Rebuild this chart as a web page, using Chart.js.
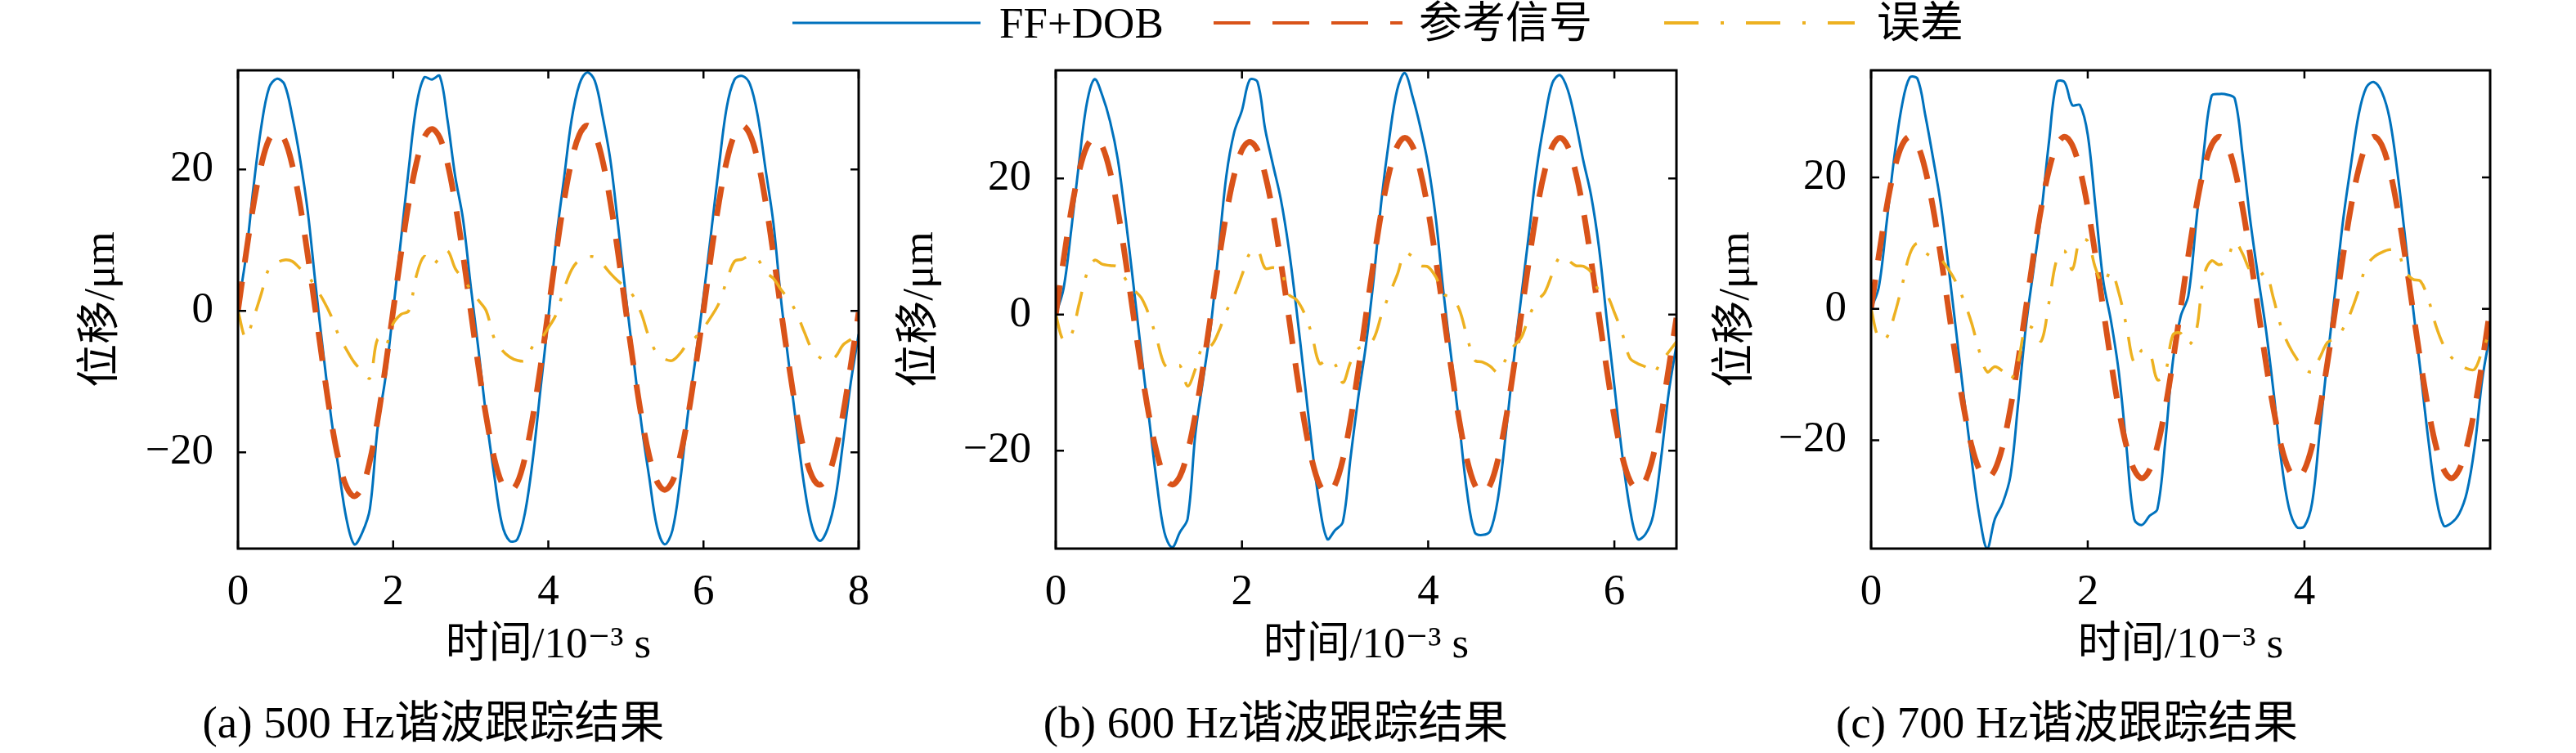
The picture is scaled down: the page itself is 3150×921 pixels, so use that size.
<!DOCTYPE html>
<html>
<head>
<meta charset="utf-8">
<script src="https://cdn.jsdelivr.net/npm/chart.js@4.4.0/dist/chart.umd.min.js"></script>
<style>
  body { margin: 0; background: #fff; width: 3150px; height: 921px; overflow: hidden; position: relative;
         font-family: "Liberation Serif", "DejaVu Serif", "Noto Sans CJK SC", serif; }
  canvas { position: absolute; top: 0; }
  #legend { position: absolute; left: 0; top: 0; width: 3150px; height: 60px; }
  #legend span { position: absolute; top: -2px; font-size: 53px; line-height: 60px; white-space: nowrap; color: #000; }
</style>
</head>
<body>
<div id="legend">
  <svg width="3150" height="60" style="position:absolute;left:0;top:0">
    <line id="lg0" x1="969" y1="28" x2="1199" y2="28" stroke-width="3"/>
    <line id="lg1" x1="1484" y1="28" x2="1715" y2="28" stroke-width="4" stroke-dasharray="45 27"/>
    <line id="lg2" x1="2035" y1="28" x2="2268" y2="28" stroke-width="4" stroke-dasharray="42 27 4 27"/>
  </svg>
  <span id="lt0" style="left:1222px"></span>
  <span id="lt1" style="left:1735px"></span>
  <span id="lt2" style="left:2295px"></span>
</div>
<canvas id="c1" width="1150" height="921" style="left:0px"></canvas>
<canvas id="c2" width="1060" height="921" style="left:1060px"></canvas>
<canvas id="c3" width="1150" height="921" style="left:2000px"></canvas>
<script>
// labels
const seriesNames = ['FF+DOB', '参考信号', '误差'];
const captions = ['(a) 500 Hz谐波跟踪结果', '(b) 600 Hz谐波跟踪结果', '(c) 700 Hz谐波跟踪结果'];
const xTitle = '时间/10⁻³ s';
const yTitle = '位移/μm';
const yTicks = [-20, 0, 20];
const xTicks500 = [0, 2, 4, 6, 8];
const xTicks600 = [0, 2, 4, 6];
const xTicks700 = [0, 2, 4];

// sample spacing in 10^-3 s (20 samples per period)
const step500 = 0.1;
const step600 = 1 / 12;
const step700 = 1 / 14;

// axis limits (tight, as in the figure)
const yRange500 = [-33.6, 34.0];
const yRange600 = [-34.4, 35.9];
const yRange700 = [-36.5, 36.3];

// 500 Hz
const ff500 = [0.5, 7.5, 17.5, 26, 31.5, 32.8, 32, 27.5, 21.5, 14, 3.7, -6, -15, -22.5, -29.5, -33, -31.4, -28, -16.5, -9.5,
  0, 10, 20, 29, 33, 32.7, 33.2, 27, 19, 13, 3.5, -5.5, -15, -23, -30, -32.5, -32.3, -28.5, -21, -11,
  -1, 10, 18.5, 27, 32, 33.7, 32.5, 27.5, 21.3, 12, 2, -7, -16, -23.5, -30.5, -33, -31, -24, -14.5, -6.5,
  2, 11.2, 20.5, 28.8, 32.7, 33.2, 32, 27.5, 20, 12.5, 1.5, -7.5, -16.5, -24.8, -30.5, -32.5, -30.8, -26.5, -18.5, -10, -3.3];
const ref500 = [0, 7.8, 15, 20.6, 24.2, 25.3, 24.2, 20.6, 15, 7.8, 0, -8, -15.4, -21.2, -24.9, -26.2, -24.9, -21.2, -15.4, -8,
  0, 8, 15.2, 20.9, 24.5, 25.7, 24.5, 20.9, 15.2, 8, 0, -7.9, -15, -20.7, -24.3, -25.5, -24.3, -20.7, -15, -7.9,
  0, 8.1, 15.4, 21.2, 24.9, 26.2, 24.9, 21.2, 15.4, 8.1, 0, -7.8, -14.9, -20.5, -24.1, -25.3, -24.1, -20.5, -14.9, -7.8,
  0, 8.1, 15.4, 21.2, 24.9, 26.2, 24.9, 21.2, 15.4, 8.1, 0, -7.6, -14.5, -19.9, -23.4, -24.6, -23.4, -19.9, -14.5, -7.6, -0.2];
const err500 = [0, -3.8, -1, 2.4, 6, 6.8, 7.2, 7, 6, 5, 3.3, 1.5, -0.7, -3.5, -5.5, -7.3, -8.5, -9.5, -4, -5,
  -1.8, -0.5, 0, 5, 7.7, 6.5, 7.5, 8.5, 6, 4.5, 3, 1.5, 0, -3.8, -5.5, -6.5, -7, -7, -5, -4,
  -2.4, -0.5, 3, 5.8, 7.2, 7.6, 7.6, 6.6, 5.3, 4.2, 3.3, 2, -0.4, -3.8, -6, -6.8, -7, -6, -4.5, -3.7,
  -2.4, -0.8, 1.1, 4.3, 7, 7.3, 7.8, 7.3, 5.5, 4.6, 3, 1.6, -0.3, -3, -5.5, -6.6, -7, -6.5, -4.8, -4, -2.9];

// 600 Hz
const ff600 = [0, 3.8, 12.5, 22.3, 31, 34.6, 32.2, 28.4, 22.8, 14.2, 4.5, -5.4, -15, -24.5, -32, -34.2, -32, -30, -17.5, -9.5,
  -1.5, 9.5, 20.5, 26.8, 30, 34.5, 34.2, 27.2, 22, 17, 10, 1, -9, -19.2, -28, -33, -31.7, -30.5, -21, -12.1,
  -4.3, 5.5, 17, 26, 33, 35.5, 32, 27.5, 22, 14, 3, -6.5, -16, -26, -32, -32.4, -31.8, -27, -17.6, -7,
  2.6, 12, 21.5, 28.5, 34, 35.2, 33, 28.3, 22.6, 17.5, 10, -0.5, -10.5, -20.5, -28.5, -33, -32.3, -29.5, -21.3, -11.5, -4.5];
const ref600 = [0, 8, 15.3, 21, 24.7, 26, 24.7, 21, 15.3, 8, 0, -7.7, -14.7, -20.2, -23.8, -25, -23.8, -20.2, -14.7, -7.7,
  0, 7.8, 14.9, 20.5, 24.2, 25.4, 24.2, 20.5, 14.9, 7.8, 0, -8.1, -15.5, -21.3, -25, -26.3, -25, -21.3, -15.5, -8.1,
  0, 8, 15.3, 21, 24.7, 26, 24.7, 21, 15.3, 8, 0, -8.1, -15.5, -21.3, -25, -26.3, -25, -21.3, -15.5, -8.1,
  0, 8, 15.3, 21, 24.7, 26, 24.7, 21, 15.3, 8, 0, -7.9, -15.1, -20.8, -24.4, -25.7, -24.4, -20.8, -15.1, -7.9, -0.5];
const err600 = [0, -3.8, -3, 1.5, 6, 8, 7.4, 7.2, 7, 5.2, 3.7, 2.5, 0, -3.5, -7.3, -8, -7.5, -10.5, -8, -4.5,
  -4.6, -2.5, 0.5, 2.8, 5.8, 9, 9.5, 6.8, 6.9, 6.5, 3, 2.2, 0.3, -2.9, -7.2, -6.6, -7.3, -10, -7, -5,
  -4.6, -3.5, 0, 3, 5.8, 9, 8.5, 7.2, 7, 5.5, 3, 2.5, 0.8, -3.2, -6.7, -7, -7.6, -8.5, -6.6, -4.7,
  -3.4, -0.3, 2, 3.2, 6, 8.5, 8, 7.2, 7.1, 6.2, 3.5, 2.9, 0.3, -2.7, -6.4, -7.2, -7.7, -8.6, -7, -5.5, -4];

// 700 Hz
const ff700 = [0, 3.3, 13, 23.1, 31, 35.2, 35, 29.5, 23, 16, 6.5, -3.5, -13.5, -23, -31.5, -36.5, -32, -29.6, -25.5, -14.5,
  -2.8, 6, 14.6, 25.5, 34.5, 34.5, 31, 31, 26.5, 15.5, 4.3, -1.8, -9.5, -21, -32, -32.9, -31.5, -30.5, -20.5, -8,
  -1.2, 2, 13, 24, 32.4, 32.7, 32.6, 32, 23.6, 13.5, 5, -2.9, -12.5, -23, -30.3, -33.2, -33.1, -29.5, -18.5, -7.5,
  3, 13.5, 21.8, 29.5, 33.7, 34.5, 33, 29, 21, 11, 0.5, -9.5, -19.8, -28.5, -33, -32.6, -31.2, -27.9, -21, -10.6, -3.8];
const ref700 = [0, 8.1, 15.4, 21.2, 24.9, 26.2, 24.9, 21.2, 15.4, 8.1, 0, -8, -15.2, -20.9, -24.5, -25.8, -24.5, -20.9, -15.2, -8,
  0, 8.1, 15.4, 21.2, 24.9, 26.2, 24.9, 21.2, 15.4, 8.1, 0, -8, -15.2, -20.9, -24.5, -25.8, -24.5, -20.9, -15.2, -8,
  0, 8.1, 15.4, 21.2, 24.9, 26.2, 24.9, 21.2, 15.4, 8.1, 0, -8, -15.2, -20.9, -24.5, -25.8, -24.5, -20.9, -15.2, -8,
  0, 8.1, 15.4, 21.2, 24.9, 26.2, 24.9, 21.2, 15.4, 8.1, 0, -8, -15.2, -20.9, -24.5, -25.8, -24.5, -20.9, -15.2, -8, 0];
const err700 = [0, -4.5, -4.4, -1, 3.5, 8.3, 10, 8.6, 7.8, 7.5, 6, 4, 1.2, -2.2, -6.5, -9.6, -8.8, -9.5, -10.8, -8,
  -2.8, -3, -4.9, 1, 7.5, 8.8, 6, 10.5, 10.3, 6.2, 3.8, 5.7, 2.5, -2.6, -8.2, -6.3, -6.7, -10.8, -9.8, -4,
  -3.7, -5.5, -3.5, 5, 7.3, 6.7, 7.5, 10.2, 8.4, 5.8, 5, 5.5, 1.6, -2.8, -5.6, -7.6, -9.1, -9.6, -7.4, -5.1,
  -4.5, -3, -0.5, 2.8, 6.5, 7.9, 8.6, 9, 8.8, 5.8, 4.5, 4.2, 1.5, -2.6, -5.6, -7.4, -8.3, -9.1, -9.2, -6.3, -3.5];

const BLUE = '#0072BD', ORANGE = '#D95319', YELLOW = '#EDB120';
const FAM = '"Liberation Serif", "DejaVu Serif", "Noto Sans CJK SC", serif';
const colors = [BLUE, ORANGE, YELLOW];

// html legend
seriesNames.forEach((name, i) => {
  document.getElementById('lt' + i).textContent = name;
  document.getElementById('lg' + i).setAttribute('stroke', colors[i]);
});

// box around the plot area with inward ticks on all four sides
const boxTicks = {
  id: 'boxTicks',
  afterDraw(chart) {
    const { ctx, chartArea: a, scales: { x, y } } = chart;
    const len = 10;
    ctx.save();
    ctx.strokeStyle = '#000';
    ctx.lineWidth = 3;
    ctx.strokeRect(a.left, a.top, a.right - a.left, a.bottom - a.top);
    ctx.lineWidth = 2.5;
    ctx.beginPath();
    x.ticks.forEach(t => {
      const px = x.getPixelForValue(t.value);
      ctx.moveTo(px, a.bottom); ctx.lineTo(px, a.bottom - len);
      ctx.moveTo(px, a.top); ctx.lineTo(px, a.top + len);
    });
    y.ticks.forEach(t => {
      const py = y.getPixelForValue(t.value);
      ctx.moveTo(a.left, py); ctx.lineTo(a.left + len, py);
      ctx.moveTo(a.right, py); ctx.lineTo(a.right - len, py);
    });
    ctx.stroke();
    ctx.restore();
  }
};

const minus = v => String(v).replace('-', '\u2212');

function makePanel(p) {
  const canvas = document.getElementById(p.id);
  const t = p.ff.map((_, i) => i * p.step);
  const pts = arr => arr.map((v, i) => ({ x: t[i], y: v }));
  const padLeft = 10;
  new Chart(canvas, {
    type: 'line',
    data: {
      datasets: [
        { label: seriesNames[0], data: pts(p.ff), borderColor: BLUE, borderWidth: 3, order: 2 },
        { label: seriesNames[1], data: pts(p.ref), borderColor: ORANGE, borderWidth: 7, borderDash: [36, 24], order: 1 },
        { label: seriesNames[2], data: pts(p.err), borderColor: YELLOW, borderWidth: 3.5, borderDash: [30, 18, 4, 18], order: 0 }
      ]
    },
    options: {
      responsive: false,
      animation: false,
      devicePixelRatio: 1,
      elements: { point: { radius: 0 }, line: { tension: 0.35, fill: false } },
      layout: { padding: { left: padLeft, right: canvas.width - (p.axisRight - p.canvasLeft), top: 86, bottom: 0 } },
      plugins: {
        legend: { display: false },
        tooltip: { enabled: false },
        title: {
          display: true, position: 'bottom', text: p.caption, color: '#000', padding: 0,
          font: { family: FAM, size: 55, weight: 'normal', lineHeight: 1.2 }
        }
      },
      scales: {
        x: {
          type: 'linear', min: 0, max: (p.ff.length - 1) * p.step,
          grid: { display: false }, border: { display: false },
          afterBuildTicks: s => { s.ticks = p.xTicks.map(v => ({ value: v })); },
          afterFit: s => { s.height = 184; },
          ticks: { color: '#000', font: { family: FAM, size: 53 }, padding: 14, maxRotation: 0, autoSkip: false, callback: minus },
          title: { display: true, text: xTitle, color: '#000', font: { family: FAM, size: 53, lineHeight: 1.2 }, padding: { top: 0, bottom: 33 } }
        },
        y: {
          min: p.yRange[0], max: p.yRange[1],
          grid: { display: false }, border: { display: false },
          afterBuildTicks: s => { s.ticks = yTicks.map(v => ({ value: v })); },
          afterFit: s => { s.width = p.axisLeft - p.canvasLeft - padLeft; },
          ticks: { color: '#000', font: { family: FAM, size: 53 }, padding: 22, autoSkip: false, callback: minus },
          title: { display: true, text: yTitle, color: '#000', font: { family: FAM, size: 53, lineHeight: 1.2 },
                   padding: { top: p.yTitleX - p.canvasLeft - padLeft - 31.8, bottom: 0 } }
        }
      }
    },
    plugins: [boxTicks]
  });
}

makePanel({ id: 'c1', canvasLeft: 0, axisLeft: 291, axisRight: 1050, yTitleX: 125,
  step: step500, ff: ff500, ref: ref500, err: err500, xTicks: xTicks500, yRange: yRange500, caption: captions[0] });
makePanel({ id: 'c2', canvasLeft: 1060, axisLeft: 1291, axisRight: 2050, yTitleX: 1126,
  step: step600, ff: ff600, ref: ref600, err: err600, xTicks: xTicks600, yRange: yRange600, caption: captions[1] });
makePanel({ id: 'c3', canvasLeft: 2000, axisLeft: 2288, axisRight: 3045, yTitleX: 2124,
  step: step700, ff: ff700, ref: ref700, err: err700, xTicks: xTicks700, yRange: yRange700, caption: captions[2] });
</script>
</body>
</html>
